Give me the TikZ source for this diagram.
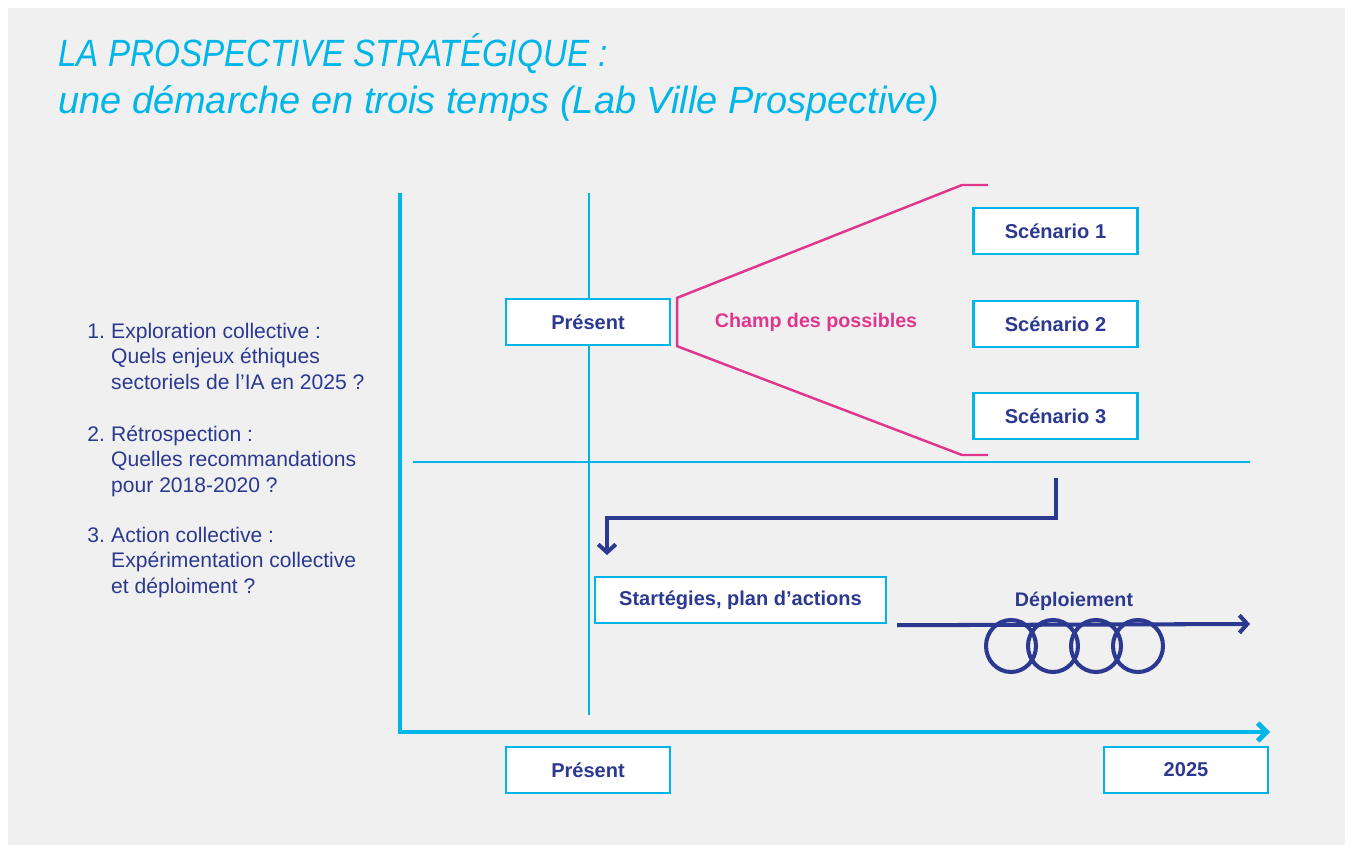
\documentclass[tikz,border=0pt]{standalone}
\usepackage{fontspec}
\setmainfont{Liberation Sans}
\usetikzlibrary{arrows.meta,calc,positioning}
\definecolor{labcyan}{HTML}{00B5E8}
\definecolor{labnavy}{HTML}{2B3990}
\definecolor{labpink}{HTML}{E0368E}
\definecolor{labgray}{HTML}{F0F0F0}
\tikzset{%
	box/.style      = {draw=labcyan, line width=1.4pt, fill=white, minimum width=3.28cm, minimum height=0.92cm, text=labnavy, font=\fontsize{11.4}{13}\selectfont\bfseries},
	axis/.style     = {labcyan, line width=2.8pt, line join=miter, -{Straight Barb[length=5pt,width=10pt]}},
	thinline/.style = {labcyan, line width=1.1pt},
	funnel/.style   = {labpink, line width=1.4pt},
	flow/.style     = {labnavy, line width=2.3pt, -{Straight Barb[length=4.5pt,width=10pt]}},
	item/.style     = {anchor=base west, inner sep=0pt, text=labnavy, font=\fontsize{12}{14.7}\selectfont},
}
\newcommand{\itemnum}[1]{\makebox[13.6pt][l]{#1}}

\begin{document}
\begin{tikzpicture}[x=0.02cm, y=-0.02cm]
	\useasboundingbox (0,0) rectangle (1353,852);
	\fill[labgray] (8,8) rectangle (1345,845);
	
	% title
	\node[anchor=base west, inner sep=0pt, align=left, text=labcyan, font=\fontsize{21.6}{26.6}\selectfont\itshape] (title) at (58,113)
		{\scalebox{0.875}[1]{LA PROSPECTIVE STRATÉGIQUE :}\\une démarche en trois temps (Lab Ville Prospective)};
	
	% the three steps
	\node[item] (step1) at (87,338) {\begin{tabular}[t]{@{}l@{}l@{}}\itemnum{1.} & Exploration collective :\\ & Quels enjeux éthiques\\ & sectoriels de l’IA en 2025 ?\end{tabular}};
	\node[item] (step2) at (87,441) {\begin{tabular}[t]{@{}l@{}l@{}}\itemnum{2.} & Rétrospection :\\ & Quelles recommandations\\ & pour 2018-2020 ?\end{tabular}};
	\node[item] (step3) at (87,542) {\begin{tabular}[t]{@{}l@{}l@{}}\itemnum{3.} & Action collective :\\ & Expérimentation collective\\ & et déploiment ?\end{tabular}};
	
	% axes and guide lines
	\draw[axis] (400,193) -- (400,732) -- (1270,732);  % time axis
	\draw[thinline] (589,193) -- (589,715);
	\draw[thinline] (413,462) -- (1250,462);
	
	% boxes
	\node[box] (present) at (588,322) {Présent};
	\node[box] (scen1) at (1055.5,231) {Scénario 1};
	\node[box] (scen2) at (1055.5,324) {Scénario 2};
	\node[box] (scen3) at (1055.5,416) {Scénario 3};
	\node[box, minimum width=5.82cm] (strat) at (740.5,600) {Startégies, plan d’actions};
	\node[box] (now) at (588,770) {Présent};
	\node[box] (end) at (1186,770) {2025};
	
	% champ des possibles
	\coordinate (ftop) at ($(present.north east)+(6,0)$);
	\coordinate (fbot) at ($(present.south east)+(6,0)$);
	\draw[funnel] (988,185) -- (962,185) -- (ftop) -- (fbot) -- (962,455) -- (988,455);
	\node[text=labpink, font=\fontsize{11.2}{13}\selectfont\bfseries] (champ) at (816,322) {Champ des possibles};
	
	% retour vers le present
	\coordinate (back) at (1056,478);
	\coordinate (backend) at (607,555);
	\draw[flow, line join=miter] (back) |- (607,518) -- (backend);
	
	% deploiement
	\coordinate (dstart) at ($(strat.south east)+(10,1)$);
	\coordinate (dend) at (1250,624);
	\draw[flow] (dstart) -- (dend);
	\foreach \cx in {1011,1053,1096,1138}
		\draw[labnavy, line width=2.3pt] (\cx,646) ellipse (25 and 26);
	\node[text=labnavy, font=\fontsize{11.2}{13}\selectfont\bfseries] (deploy) at (1074,601) {Déploiement};
	
\end{tikzpicture}
\end{document}
